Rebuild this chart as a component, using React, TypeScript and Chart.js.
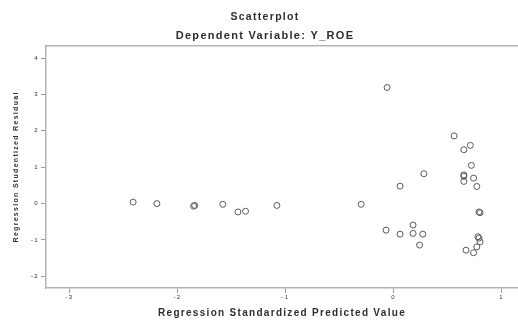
import React, { useEffect, useRef } from "react";
import { Chart, registerables } from "chart.js";

Chart.register(...registerables);

const chartTitle = "Scatterplot";
const chartSubtitle = "Dependent Variable: Y_ROE";
const xAxisTitle = "Regression Standardized Predicted Value";
const yAxisTitle = "Regression Studentized Residual";

const xTickValues = [-3, -2, -1, 0, 1];
const yTickValues = [-2, -1, 0, 1, 2, 3, 4];

const predictedValues = [
  -2.41, -2.19, -1.85, -1.84, -1.58, -1.44, -1.37, -1.08, -0.3, -0.06, -0.07,
  0.06, 0.06, 0.18, 0.18, 0.27, 0.24, 0.28, 0.56, 0.65, 0.71, 0.72, 0.65, 0.65,
  0.65, 0.74, 0.77, 0.79, 0.8, 0.78, 0.79, 0.8, 0.77, 0.67, 0.74,
];
const studentizedResiduals = [
  0.04, 0.0, -0.07, -0.05, -0.02, -0.23, -0.21, -0.05, -0.02, 3.19, -0.73,
  0.48, -0.84, -0.59, -0.82, -0.84, -1.14, 0.82, 1.86, 1.48, 1.6, 1.05, 0.79,
  0.75, 0.61, 0.7, 0.47, -0.23, -0.25, -0.91, -0.95, -1.05, -1.19, -1.28, -1.35,
];

const X_MIN = -3.216;
const X_MAX = 1.151;
const Y_MIN = -2.32;
const Y_MAX = 4.337;

const frameColor = "#b4b4b4";
const tickColor = "#9a9a9a";
const textColor = "#2e2e2e";
const fontFamily = "'Liberation Sans', Arial, sans-serif";

const textSpacingPlugin = {
  id: "textSpacing",
  beforeDraw(chart: any) {
    chart.ctx.letterSpacing = "1.3px";
  },
};

const topFramePlugin = {
  id: "topFrame",
  afterDraw(chart: any) {
    const { ctx, chartArea } = chart;
    ctx.save();
    ctx.strokeStyle = frameColor;
    ctx.lineWidth = 1.5;
    ctx.beginPath();
    ctx.moveTo(chartArea.left - 0.75, chartArea.top);
    ctx.lineTo(chart.width, chartArea.top);
    ctx.stroke();
    ctx.restore();
  },
};

export default function App() {
  const canvasRef = useRef<HTMLCanvasElement | null>(null);

  useEffect(() => {
    if (!canvasRef.current) return;
    const points = predictedValues.map((x, i) => ({ x, y: studentizedResiduals[i] }));
    const chart = new Chart(canvasRef.current, {
      type: "scatter",
      data: {
        datasets: [
          {
            data: points,
            pointRadius: 3,
            pointHoverRadius: 3,
            pointBorderWidth: 1,
            pointBorderColor: "#5a5a5a",
            pointBackgroundColor: "rgba(0,0,0,0)",
          },
        ],
      },
      options: {
        animation: false,
        responsive: false,
        devicePixelRatio: 1,
        layout: { autoPadding: false, padding: { left: 12, right: 0, top: 0, bottom: 0 } },
        plugins: {
          legend: { display: false },
          tooltip: { enabled: false },
          title: {
            display: true,
            text: chartTitle,
            color: textColor,
            font: { family: fontFamily, size: 10.5, weight: "bold", lineHeight: 1.2 },
            padding: { top: 11, bottom: 2 },
          },
          subtitle: {
            display: true,
            text: chartSubtitle,
            color: textColor,
            font: { family: fontFamily, size: 11, weight: "bold", lineHeight: 1.2 },
            padding: { top: 4, bottom: 3 },
          },
        },
        scales: {
          x: {
            type: "linear",
            min: X_MIN,
            max: X_MAX,
            afterFit(scale: any) {
              scale.height = 32;
            },
            afterBuildTicks(scale: any) {
              scale.ticks = xTickValues.map((v) => ({ value: v }));
            },
            grid: {
              display: true,
              drawOnChartArea: false,
              drawTicks: true,
              tickLength: 5,
              color: tickColor,
              lineWidth: 1,
            },
            border: { display: true, color: frameColor, width: 1.5 },
            ticks: {
              color: textColor,
              font: { family: fontFamily, size: 6 },
              padding: 1,
              maxRotation: 0,
              autoSkip: false,
            },
            title: {
              display: true,
              text: xAxisTitle,
              color: textColor,
              font: { family: fontFamily, size: 10, weight: "bold", lineHeight: 1.2 },
              padding: { top: 0, bottom: 1 },
            },
          },
          y: {
            type: "linear",
            min: Y_MIN,
            max: Y_MAX,
            afterFit(scale: any) {
              scale.width = 34;
            },
            afterBuildTicks(scale: any) {
              scale.ticks = yTickValues.map((v) => ({ value: v }));
            },
            grid: {
              display: true,
              drawOnChartArea: false,
              drawTicks: true,
              tickLength: 5,
              color: tickColor,
              lineWidth: 1,
            },
            border: { display: true, color: frameColor, width: 1.5 },
            ticks: {
              color: textColor,
              font: { family: fontFamily, size: 6 },
              padding: 2,
              autoSkip: false,
            },
            title: {
              display: true,
              text: yAxisTitle,
              color: textColor,
              font: { family: fontFamily, size: 7, weight: "bold", lineHeight: 1.2 },
              padding: { top: 0, bottom: 0 },
            },
          },
        },
      },
      plugins: [textSpacingPlugin, topFramePlugin],
    });
    return () => chart.destroy();
  }, []);

  return (
    <div
      style={{
        position: "absolute",
        left: 0,
        top: 0,
        width: 518,
        height: 320,
        background: "#ffffff",
      }}
    >
      <canvas ref={canvasRef} width={518} height={320} />
    </div>
  );
}
